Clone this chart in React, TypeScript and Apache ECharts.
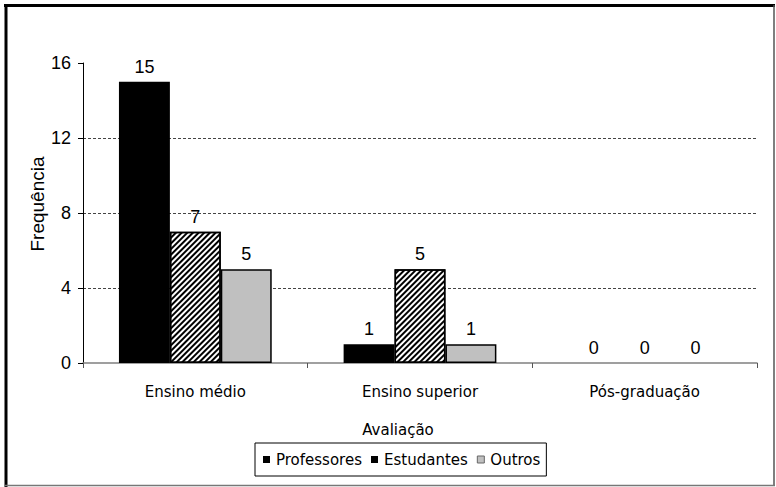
import React, { useEffect, useRef } from "react";
import * as echarts from "echarts";

const categories = ["Ensino médio", "Ensino superior", "Pós-graduação"];
const professores = [15, 1, 0];
const estudantes = [7, 5, 0];
const outros = [5, 1, 0];
const yTicks = { min: 0, max: 16, interval: 4 };
const seriesNames = ["Professores", "Estudantes", "Outros"];
const xAxisTitle = "Avaliação";
const yAxisTitle = "Frequência";

const ARIAL = "'Liberation Sans', Arial, sans-serif";
const VERDANA = "'DejaVu Sans', Verdana, sans-serif";

const toData = (arr: number[]) =>
  arr.map((v) => (v === 0 ? { value: v, itemStyle: { borderWidth: 0 } } : v));

export default function App() {
  const ref = useRef<HTMLDivElement>(null);
  useEffect(() => {
    if (!ref.current) return;
    const chart = echarts.init(ref.current, null, { renderer: "svg" });
    const label = {
      show: true,
      position: "top",
      distance: 6,
      color: "#000",
      fontFamily: ARIAL,
      fontSize: 18,
    };
    chart.setOption({
      animation: false,
      backgroundColor: "#fff",
      grid: { left: 83, right: 19, top: 63, bottom: 124, containLabel: false },
      legend: {
        left: 255,
        top: 443,
        padding: [9, 6, 9, 8],
        borderColor: "#000",
        borderWidth: 1,
        itemWidth: 7,
        itemHeight: 7,
        itemGap: 9,
        icon: "rect",
        textStyle: { fontFamily: VERDANA, fontSize: 15, color: "#000", padding: [0, 0, 0, 1] },
        data: [
          { name: seriesNames[0], itemStyle: { color: "#000", borderWidth: 0 } },
          { name: seriesNames[1], itemStyle: { color: "#000", borderWidth: 0, decal: "none" } },
          { name: seriesNames[2], itemStyle: { color: "#c0c0c0", borderColor: "#666", borderWidth: 1 } },
        ],
      },
      xAxis: {
        type: "category",
        data: categories,
        axisLine: { show: true, lineStyle: { color: "#808080", width: 1.5 } },
        axisTick: { show: true, length: 5, lineStyle: { color: "#555", width: 1 } },
        axisLabel: { fontFamily: VERDANA, fontSize: 15, color: "#000", margin: 21 },
        splitLine: { show: false },
      },
      yAxis: {
        type: "value",
        min: yTicks.min,
        max: yTicks.max,
        interval: yTicks.interval,
        axisLine: { show: true, lineStyle: { color: "#000", width: 1 } },
        axisTick: { show: true, inside: false, length: 5, lineStyle: { color: "#000" } },
        axisLabel: { fontFamily: ARIAL, fontSize: 18, color: "#000", margin: 12 },
        splitLine: {
          show: true,
          showMinLine: false,
          showMaxLine: false,
          lineStyle: { color: "#444", type: [3, 2], width: 1 },
        },
      },
      series: [
        {
          name: seriesNames[0],
          type: "bar",
          data: toData(professores),
          barGap: "0%",
          barCategoryGap: "32%",
          itemStyle: { color: "#000", borderColor: "#000", borderWidth: 1.5 },
          label,
        },
        {
          name: seriesNames[1],
          type: "bar",
          data: toData(estudantes),
          barGap: "0%",
          barCategoryGap: "32%",
          itemStyle: {
            color: "#fff",
            borderColor: "#000",
            borderWidth: 1.5,
            decal: {
              symbol: "rect",
              symbolSize: 1,
              dashArrayX: [1, 0],
              dashArrayY: [1.6, 1.9],
              rotation: -Math.PI / 4,
              color: "#000",
            },
          },
          label,
        },
        {
          name: seriesNames[2],
          type: "bar",
          data: toData(outros),
          barGap: "0%",
          barCategoryGap: "32%",
          itemStyle: { color: "#c0c0c0", borderColor: "#000", borderWidth: 1.5 },
          label,
        },
      ],
      graphic: [
        {
          type: "text",
          x: 37,
          y: 204,
          rotation: Math.PI / 2,
          style: {
            text: yAxisTitle,
            fontFamily: ARIAL,
            fontSize: 19,
            fill: "#000",
            align: "center",
            verticalAlign: "middle",
          },
        },
        {
          type: "text",
          x: 398,
          y: 430,
          style: {
            text: xAxisTitle,
            fontFamily: VERDANA,
            fontSize: 15,
            fill: "#000",
            align: "center",
            verticalAlign: "middle",
          },
        },
        { type: "line", shape: { x1: 4, y1: 5.5, x2: 775, y2: 5.5 }, style: { stroke: "#000", lineWidth: 3 } },
        { type: "line", shape: { x1: 6, y1: 4, x2: 6, y2: 487 }, style: { stroke: "#000", lineWidth: 3 } },
        { type: "line", shape: { x1: 774, y1: 5, x2: 774, y2: 486 }, style: { stroke: "#555", lineWidth: 1.5 } },
        { type: "line", shape: { x1: 5, y1: 485.5, x2: 775, y2: 485.5 }, style: { stroke: "#777", lineWidth: 1.5 } },
      ],
    });
    return () => chart.dispose();
  }, []);
  return (
    <div
      ref={ref}
      style={{ position: "absolute", left: 0, top: 0, width: 776, height: 487 }}
    />
  );
}
